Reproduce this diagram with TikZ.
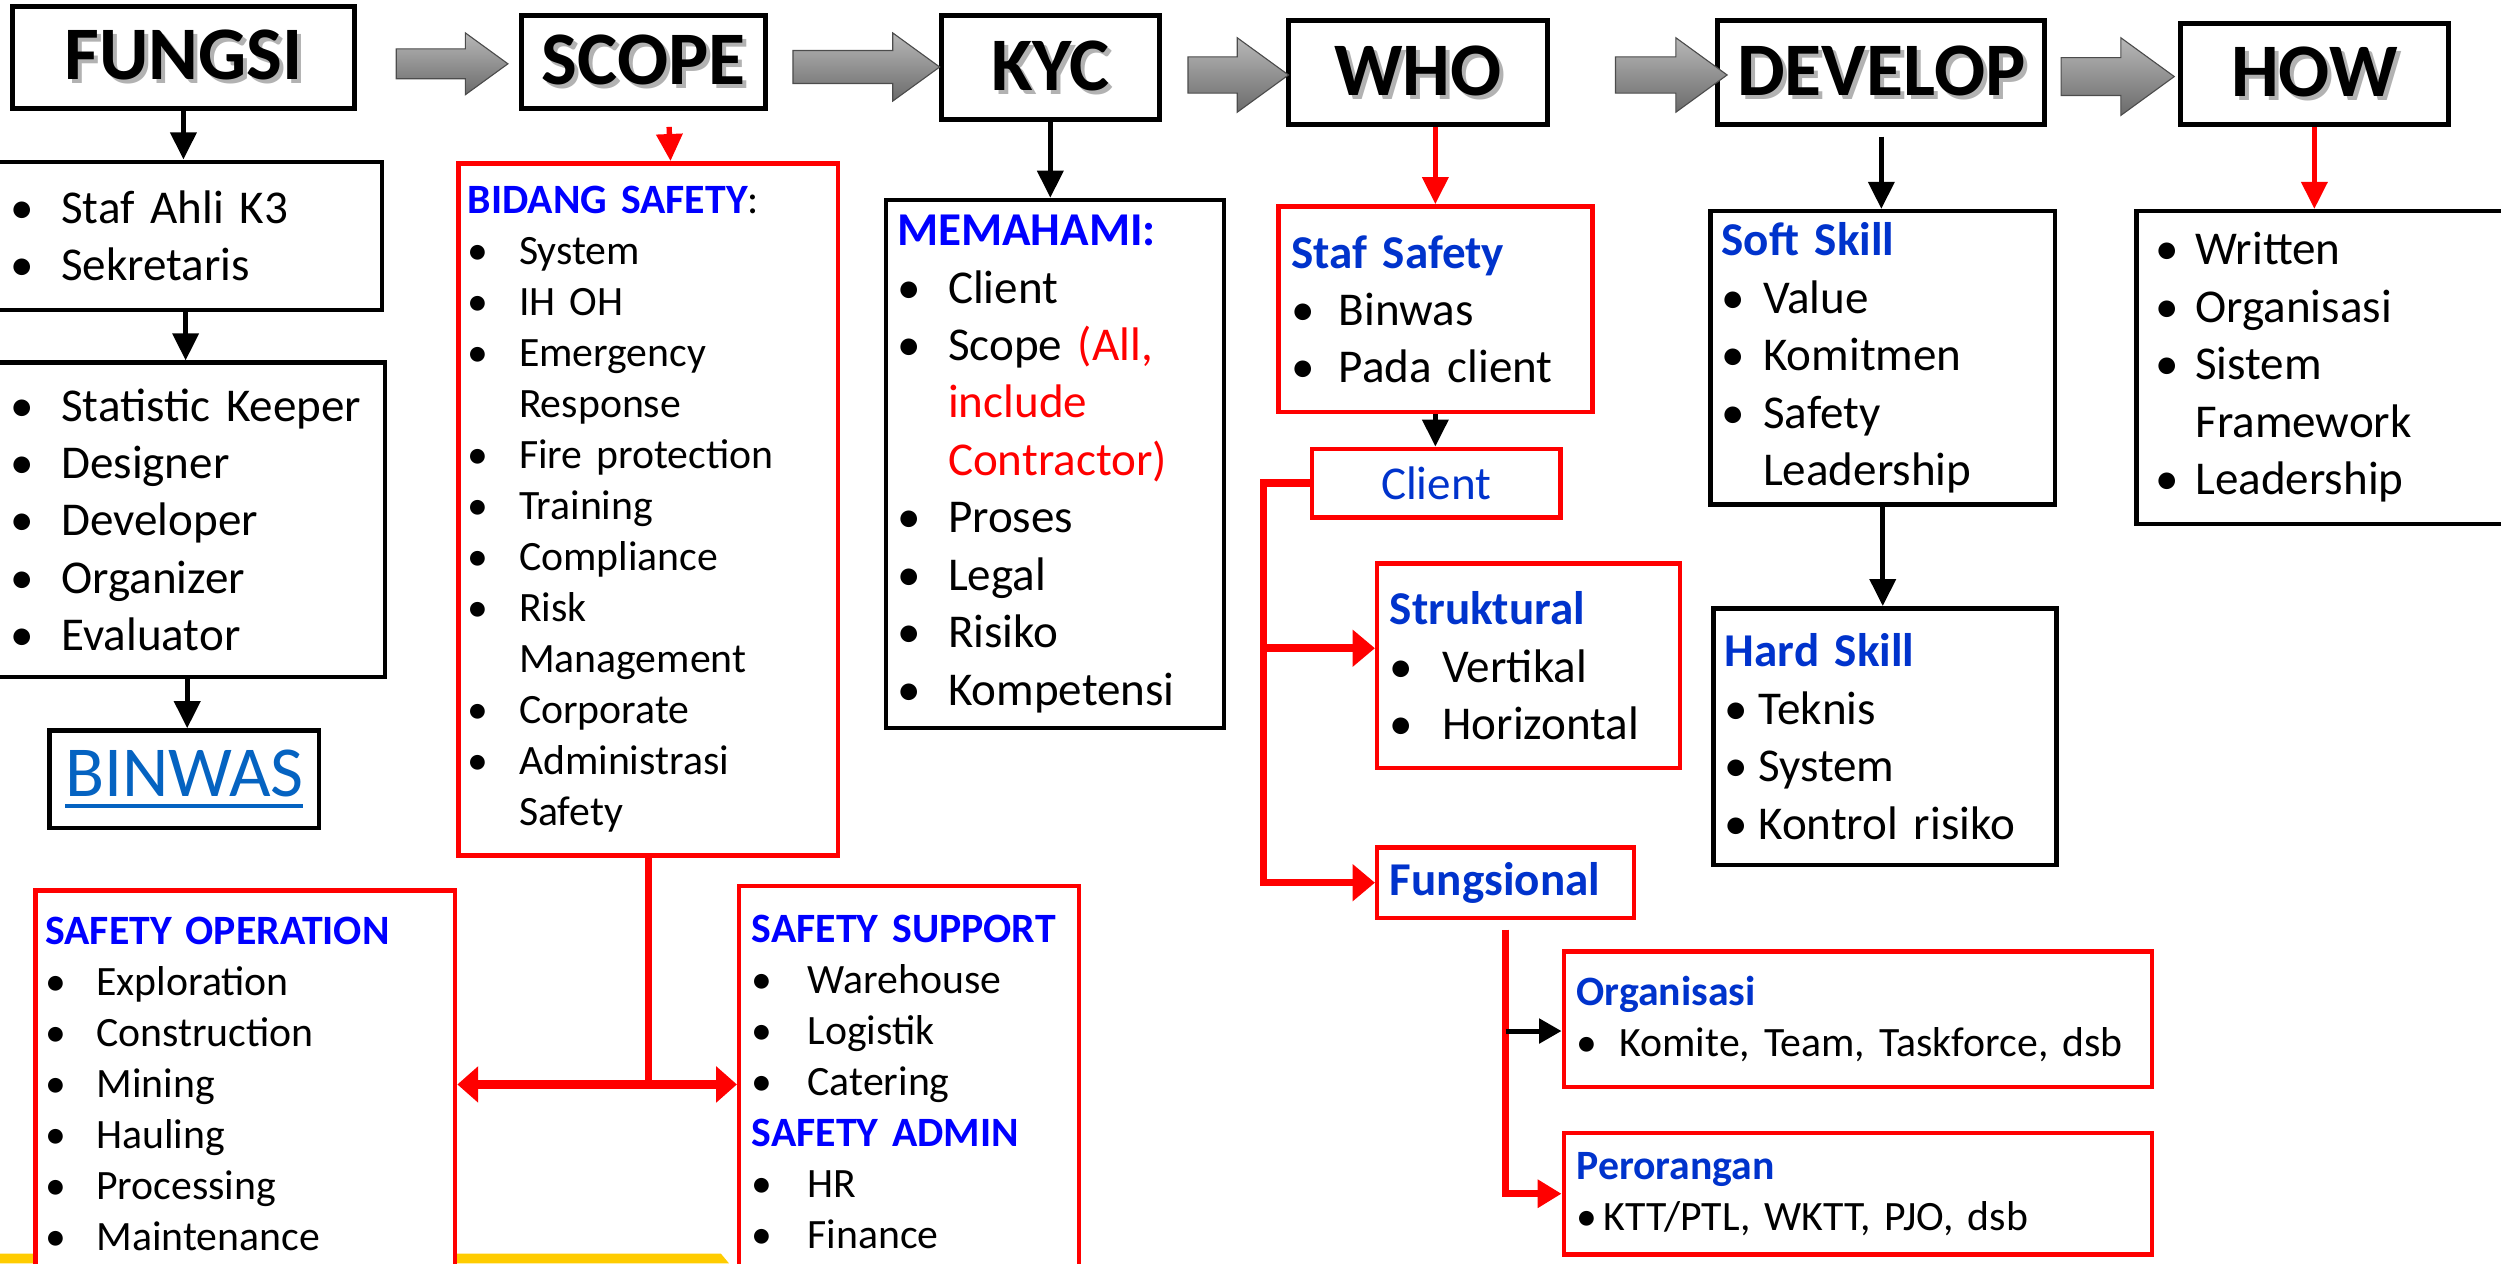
\documentclass[tikz,border=0pt]{standalone}
\usepackage{fontspec}
\setmainfont{Carlito}
\usetikzlibrary{arrows.meta,shapes.arrows}

\definecolor{hdblue}{RGB}{0,0,255}
\definecolor{skblue}{RGB}{0,51,204}
\definecolor{lnblue}{HTML}{0563C1}
\definecolor{slidey}{HTML}{FFCC00}

\newcommand{\bodyfont}{\fontsize{16.8}{20.5}\selectfont}
\newcommand{\smallfont}{\fontsize{14.9}{18.2}\selectfont}
\newcommand{\itm}[2][0.64cm]{\makebox[#1][l]{\textbullet}#2}
\newcommand{\cnt}[2][0.64cm]{\hspace*{#1}#2}
\newcommand{\hd}[1]{\textcolor{hdblue}{\bfseries #1}}
\newcommand{\sk}[1]{\textcolor{skblue}{\bfseries #1}}
\newcommand{\shd}[1]{\makebox[0pt][l]{\hspace{0.05cm}\raisebox{-0.05cm}{\textcolor{black!30}{#1}}}#1}
\newcommand{\lnk}[1]{\setbox0\hbox{#1}\rlap{\rule[-0.14cm]{\wd0}{0.05cm}}\box0}

\tikzset{
  title/.style={draw, line width=1.8pt, fill=white, inner sep=0pt, font=\fontsize{27}{30}\selectfont\bfseries},
  box/.style={draw, line width=1.6pt, fill=white, anchor=north west, align=left, inner ysep=0pt, font=\bodyfont},
  rbox/.style={box, draw=red},
  garrow/.style={single arrow, draw=black!70, top color=black!28, bottom color=black!58, inner xsep=0pt, single arrow tip angle=72},
  barr/.style={line width=1.9pt, -{Triangle[width=0.32cm,length=0.34cm]}},
  rarr/.style={barr, red},
  rline/.style={red, line width=2.7pt},
  rtip/.style={-{Triangle[width=0.45cm,length=0.28cm]}}
}

\begin{document}
\begin{tikzpicture}[x=0.02cm, y=-0.02cm]
\useasboundingbox (0,0) rectangle (1568,792);
\clip (0,0) rectangle (1568,792);
\fill[slidey] (0,786) -- (452,786) -- (457,792) -- (0,792) -- cycle;

% top row
\node[title, minimum width=4.28cm, minimum height=1.28cm] (fungsi) at (115,36) {\shd{FUNGSI}};
\node[title, minimum width=3.06cm, minimum height=1.16cm] (scope) at (403.5,39) {\shd{SCOPE}};
\node[title, minimum width=2.74cm, minimum height=1.30cm] (kyc) at (658.5,42.5) {\shd{KYC}};
\node[title, minimum width=3.24cm, minimum height=1.30cm] (who) at (889,45.5) {\shd{WHO}};
\node[title, minimum width=4.10cm, minimum height=1.30cm] (develop) at (1179.5,45.5) {\shd{DEVELOP}};
\node[title, minimum width=3.36cm, minimum height=1.26cm] (how) at (1451,46.5) {\shd{HOW}};

\foreach \n/\cx/\cy/\l/\s/\e in {1/277/40/1.4cm/0.18cm/0.2cm, 2/536/42/1.84cm/0.2cm/0.22cm,
    3/768.5/47/1.26cm/0.22cm/0.24cm, 4/1040/47/1.4cm/0.22cm/0.24cm, 5/1319.5/48/1.42cm/0.23cm/0.25cm}
  \node[garrow, minimum height=\l, inner ysep=\s, single arrow head extend=\e] (ar\n) at (\cx,\cy) {};

% fungsi
\node[box, text width=4.4cm, inner xsep=0.26cm, minimum height=1.86cm] (f1) at (-8,100)
  {\itm{Staf Ahli K3}\\ \itm{Sekretaris}};
\node[box, text width=4.44cm, inner xsep=0.26cm, minimum height=3.94cm] (f2) at (-8,226)
  {\itm{Statistic Keeper}\\ \itm{Designer}\\ \itm{Developer}\\ \itm{Organizer}\\ \itm{Evaluator}};
\node[draw, line width=1.6pt, minimum width=3.38cm, minimum height=1.22cm, text=lnblue,
  font=\fontsize{25.6}{28}\selectfont] (binwas) at (115.5,488.5) {\lnk{BINWAS}};

% scope
\node[rbox, font=\smallfont, text width=4.52cm, inner xsep=0.12cm, minimum height=8.68cm] (bidang) at (286,101)
  {\hd{BIDANG SAFETY}:\\ \itm{System}\\ \itm{IH OH}\\ \itm{Emergency}\\ \cnt{Response}\\ \itm{Fire protection}\\
   \itm{Training}\\ \itm{Compliance}\\ \itm{Risk}\\ \cnt{Management}\\ \itm{Corporate}\\ \itm{Administrasi}\\ \cnt{Safety}};
\node[rbox, font=\smallfont, text width=5.02cm, inner xsep=0.12cm, minimum height=4.86cm] (opr) at (21,557)
  {\hd{SAFETY OPERATION}\\ \itm{Exploration}\\ \itm{Construction}\\ \itm{Mining}\\ \itm{Hauling}\\ \itm{Processing}\\ \itm{Maintenance}};
\node[rbox, font=\smallfont, text width=3.94cm, inner xsep=0.16cm, minimum height=4.92cm] (sup) at (462,554)
  {\hd{SAFETY SUPPORT}\\ \itm[0.7cm]{Warehouse}\\ \itm[0.7cm]{Logistik}\\ \itm[0.7cm]{Catering}\\ \hd{SAFETY ADMIN}\\ \itm[0.7cm]{HR}\\ \itm[0.7cm]{Finance}};

% kyc
\node[box, text width=3.96cm, inner xsep=0.14cm, minimum height=6.62cm] (mem) at (554,124)
  {\hd{MEMAHAMI:}\\ \itm{Client}\\ \itm{Scope \textcolor{red}{(All,}}\\ \cnt{\textcolor{red}{include}}\\ \cnt{\textcolor{red}{Contractor)}}\\
   \itm{Proses}\\ \itm{Legal}\\ \itm{Risiko}\\ \itm{Kompetensi}};

% who
\node[rbox, text width=3.62cm, inner xsep=0.16cm, minimum height=2.58cm] (staf) at (800,128)
  {\sk{Staf Safety}\\ \itm[0.6cm]{Binwas}\\ \itm[0.6cm]{Pada client}};
\node[rbox, align=center, text width=2.8cm, inner xsep=0.16cm, minimum height=0.86cm] (client) at (821,280)
  {\textcolor{skblue}{Client}};
\node[rbox, text width=3.48cm, inner xsep=0.16cm, minimum height=2.56cm] (stru) at (862,352)
  {\sk{Struktural}\\ \itm[0.66cm]{Vertikal}\\ \itm[0.66cm]{Horizontal}};
\node[rbox, text width=2.9cm, inner xsep=0.16cm, minimum height=0.88cm] (fung) at (862,530) {\sk{Fungsional}};
\node[rbox, font=\smallfont, text width=7.06cm, inner xsep=0.16cm, minimum height=1.7cm] (org) at (979,595)
  {\sk{Organisasi}\\ \itm[0.54cm]{Komite, Team, Taskforce, dsb}};
\node[rbox, font=\smallfont, text width=7.06cm, inner xsep=0.16cm, minimum height=1.52cm] (per) at (979,709)
  {\sk{Perorangan}\\ \itm[0.34cm]{KTT/PTL, WKTT, PJO, dsb}};

% develop
\node[box, text width=4.04cm, inner xsep=0.14cm, minimum height=3.68cm] (soft) at (1071,131)
  {\sk{Soft Skill}\\ \itm[0.52cm]{Value}\\ \itm[0.52cm]{Komitmen}\\ \itm[0.52cm]{Safety}\\ \cnt[0.52cm]{Leadership}};
\node[box, text width=4.02cm, inner xsep=0.14cm, minimum height=3.22cm] (hard) at (1073,380)
  {\sk{Hard Skill}\\ \itm[0.42cm]{Teknis}\\ \itm[0.42cm]{System}\\ \itm[0.42cm]{Kontrol risiko}};

% how
\node[box, text width=5.12cm, inner xsep=0.24cm, minimum height=3.92cm] (howl) at (1338,131)
  {\itm[0.5cm]{Written}\\ \itm[0.5cm]{Organisasi}\\ \itm[0.5cm]{Sistem}\\ \cnt[0.5cm]{Framework}\\ \itm[0.5cm]{Leadership}};

% connectors
\draw[barr] (fungsi.south) -- (fungsi.south |- f1.north);
\draw[barr] (f1.south) -- (f1.south |- f2.north);
\draw[barr] (f2.south) -- (f2.south |- binwas.north);
\draw[rarr] ([xshift=0.32cm,yshift=-0.2cm]scope.south) -- ([xshift=0.28cm]bidang.north);
\draw[red, line width=2.5pt] (bidang.south) -- (bidang.south |- opr.east);
\draw[red, line width=3.5pt, {Triangle[width=0.44cm,length=0.26cm]}-{Triangle[width=0.44cm,length=0.26cm]}] (opr.east) -- (sup.west |- opr.east);
\draw[barr] (kyc.south) -- (kyc.south |- mem.north);
\draw[rarr] (staf.north |- who.south) -- (staf.north);
\draw[barr] (staf.south) -- (staf.south |- client.north);
\coordinate (cj) at ([xshift=-0.58cm]client.west);
\coordinate (sa) at ([yshift=0.22cm]stru.west);
\draw[rline, rtip] (client.west) -- (cj) |- (fung.west);
\draw[rline, rtip] (cj |- sa) -- (sa);
\coordinate (fj) at ([yshift=-0.12cm]fung.south);
\coordinate (oa) at ([yshift=-0.15cm]org.west);
\draw[rline, line width=2.4pt, -{Triangle[width=0.34cm,length=0.3cm]}] (fj) |- (per.west);
\draw[line width=1.8pt, -{Triangle[width=0.3cm,length=0.28cm]}] (fj |- oa) -- (oa);
\draw[barr] ([yshift=-0.12cm]develop.south) -- (develop.south |- soft.north);
\draw[barr] (soft.south) -- (soft.south |- hard.north);
\draw[rarr] (how.south) -- (how.south |- howl.north);
\end{tikzpicture}
\end{document}
